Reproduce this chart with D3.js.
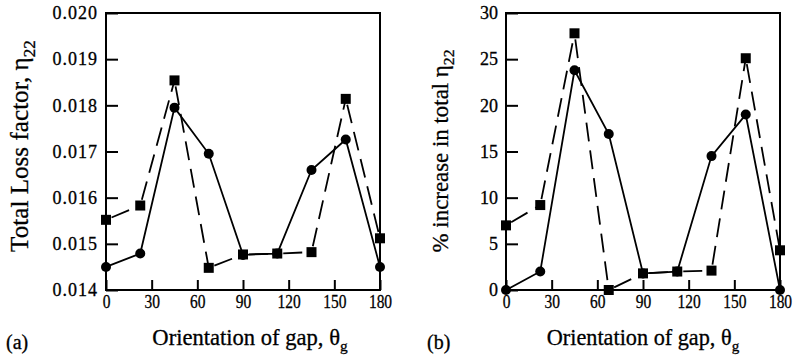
<!DOCTYPE html>
<html>
<head>
<meta charset="utf-8">
<script src="https://cdn.jsdelivr.net/npm/d3@7"></script>
<style>
  body { margin: 0; background: #fff; }
  svg text { font-family: 'Liberation Serif', 'Times New Roman', Times, serif; fill: #000; stroke: #000; stroke-width: 0.3px; }
</style>
</head>
<body>
<svg id="chart" width="794" height="364"></svg>
<script>
// gap orientation (deg)
const angles = [0, 22.5, 45, 67.5, 90, 112.5, 135, 157.5, 180];
// (a) total loss factor
const lossCircle = [0.0145, 0.01479, 0.01795, 0.01695, 0.01476, 0.01479, 0.0166, 0.01726, 0.0145];
const lossSquare = [0.01552, 0.01583, 0.01854, 0.01448, 0.01477, 0.01479, 0.01482, 0.01814, 0.01512];
// (b) % increase
const pctCircle = [0, 2.0, 23.8, 16.9, 1.8, 2.0, 14.5, 19.0, 0];
const pctSquare = [7.0, 9.2, 27.8, 0, 1.8, 2.0, 2.1, 25.1, 4.3];

const xTicks = [0, 30, 60, 90, 120, 150, 180];
const lossTicks = [0.014, 0.015, 0.016, 0.017, 0.018, 0.019, 0.020];
const pctTicks = [0, 5, 10, 15, 20, 25, 30];

const serif = "'Liberation Serif', 'Times New Roman', Times, serif";
const svg = d3.select("#chart").style("font-family", serif);
const plotTop = 13, plotBottom = 290, plotW = 274;

// shrink/grow a title so it spans roughly the same length as in the figure
function fitTitle(sel, size, target) {
  const w = sel.node().getBBox().width;
  const k = target / w;
  sel.style("font-size", (size * k) + "px");
  sel.select("tspan").style("font-size", (15 * k) + "px").attr("dy", 6 * k);
}

function drawPanel(p) {
  const g = svg.append("g").attr("transform", "translate(" + p.left + "," + plotTop + ")");
  const height = plotBottom - plotTop;

  const x = d3.scaleLinear().domain([0, 180]).range([0, plotW]);
  const y = d3.scaleLinear().domain(p.yDomain).range([height, 0]);

  // y axis, ticks pointing inward
  const yAxis = g.append("g")
    .call(d3.axisLeft(y).tickValues(p.yTicks).tickFormat(p.fmt).tickSizeInner(-12).tickSizeOuter(0).tickPadding(8))
    .attr("font-family", serif);
  yAxis.select(".domain").remove();
  yAxis.selectAll("line").attr("stroke", "#000").attr("stroke-width", 2);
  yAxis.selectAll("text")
    .style("font-size", "18px")
    .style("letter-spacing", p.ySpacing + "px");

  const xAxis = g.append("g")
    .attr("transform", "translate(0," + height + ")")
    .call(d3.axisBottom(x).tickValues(xTicks).tickSizeInner(-10).tickSizeOuter(0).tickPadding(5))
    .attr("font-family", serif);
  xAxis.select(".domain").remove();
  xAxis.selectAll("line").attr("stroke", "#000").attr("stroke-width", 2);
  xAxis.selectAll("text")
    .style("font-size", "18px")
    .attr("transform", "scale(0.86,1)");

  // frame
  g.append("rect")
    .attr("width", plotW).attr("height", height)
    .attr("fill", "none").attr("stroke", "#000").attr("stroke-width", 2);

  const circ = angles.map((a, i) => [a, p.circles[i]]);
  const sq = angles.map((a, i) => [a, p.squares[i]]);

  // dashed series, one dashed stroke per segment
  const segs = d3.pairs(sq);
  g.selectAll(".dseg").data(segs).enter().append("line")
    .attr("class", "dseg")
    .attr("x1", d => x(d[0][0])).attr("y1", d => y(d[0][1]))
    .attr("x2", d => x(d[1][0])).attr("y2", d => y(d[1][1]))
    .attr("stroke", "#000").attr("stroke-width", 1.8)
    .attr("stroke-dasharray", "19,9").attr("stroke-dashoffset", 22);

  // solid series
  g.append("path")
    .datum(circ)
    .attr("d", d3.line().x(d => x(d[0])).y(d => y(d[1])))
    .attr("fill", "none").attr("stroke", "#000").attr("stroke-width", 1.8);

  g.selectAll(".sq").data(sq).enter().append("rect")
    .attr("class", "sq")
    .attr("x", d => x(d[0]) - 5).attr("y", d => y(d[1]) - 5)
    .attr("width", 10).attr("height", 10)
    .attr("fill", "#000");

  g.selectAll(".ci").data(circ).enter().append("circle")
    .attr("class", "ci")
    .attr("cx", d => x(d[0])).attr("cy", d => y(d[1]))
    .attr("r", 5).attr("fill", "#000");

  // x title
  const xt = svg.append("text")
    .attr("x", p.xTitleX).attr("y", 345)
    .attr("text-anchor", "middle")
    .style("font-size", "22px")
    .text("Orientation of gap, θ");
  xt.append("tspan").attr("dy", 6).style("font-size", "15px").text("g");
  fitTitle(xt, 22, p.xTitleLen);

  // y title
  const yt = svg.append("text")
    .attr("transform", "translate(" + p.yTitleX + "," + p.yTitleY + ") rotate(-90)")
    .attr("text-anchor", "middle")
    .style("font-size", "22px")
    .text(p.yTitle);
  yt.append("tspan").attr("dy", 6).style("font-size", "15px").text("22");
  fitTitle(yt, 22, p.yTitleLen);

  svg.append("text")
    .attr("x", p.labelX).attr("y", 349)
    .style("font-size", "20px")
    .text(p.label);
}

drawPanel({
  left: 106, yDomain: [0.014, 0.020], yTicks: lossTicks, fmt: d3.format(".3f"),
  circles: lossCircle, squares: lossSquare, ySpacing: 1,
  yTitle: "Total Loss factor, η", yTitleX: 28, yTitleY: 146, yTitleLen: 212,
  xTitleX: 250, xTitleLen: 196, label: "(a)", labelX: 6
});

drawPanel({
  left: 506, yDomain: [0, 30], yTicks: pctTicks, fmt: d3.format("d"),
  circles: pctCircle, squares: pctSquare, ySpacing: 0,
  yTitle: "% increase in total η", yTitleX: 448, yTitleY: 151, yTitleLen: 203,
  xTitleX: 643, xTitleLen: 193, label: "(b)", labelX: 427
});
</script>
</body>
</html>
